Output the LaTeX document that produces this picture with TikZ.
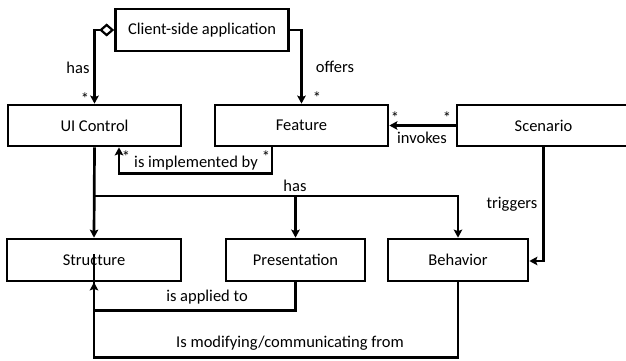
\documentclass[tikz,border=0pt]{standalone}
\usepackage{fontspec}
\setmainfont{Carlito}
\usetikzlibrary{arrows.meta,calc}
\tikzset{
  box/.style={draw, line width=2.7pt, rectangle, inner sep=0pt, minimum height=41pt},
  conn/.style={line width=2.7pt},
  arr/.style={conn, -{Stealth[length=8pt,width=8.5pt,inset=1.5pt]}},
  lbl/.style={inner sep=0pt},
}
\begin{document}
\begin{tikzpicture}[x=1pt,y=-1pt,font=\fontsize{16.5}{18}\selectfont]
\useasboundingbox (0,0) rectangle (626,361);
% classes
\node[box, minimum width=173pt, minimum height=42pt] (client) at (202,30) {Client-side application};
\node[box, minimum width=173pt] (ui) at (94.5,125.5) {UI Control};
\node[box, minimum width=173pt] (feature) at (301.5,125.5) {Feature};
\node[box, minimum width=173pt] (scenario) at (543.5,125.5) {Scenario};
\node[box, minimum width=174pt, minimum height=42pt] (structure) at (94,260) {Structure};
\node[box, minimum width=139pt, minimum height=42pt] (presentation) at (295.5,260) {Presentation};
\node[box, minimum width=140pt, minimum height=42pt] (behavior) at (458,260) {Behavior};
% aggregation and associations
\draw[conn, {Diamond[open,fill=white,length=15pt,width=13pt,line width=2.2pt]}-{Stealth[length=8pt,width=8.5pt,inset=1.5pt]}] (client.west) -| (ui.north);
\draw[arr] (client.east) -| (feature.north);
\draw[arr] (scenario.west) -- (feature.east);
\draw[arr] ([xshift=-29.5pt]feature.south) -- ++(0,26) -| ([xshift=24.5pt]ui.south);
% composition of a control
\coordinate (hasj) at (94.5,196);
\draw[arr] (ui.south) -- (structure.north);
\draw[arr] (hasj) -| (behavior.north);
\draw[arr] (hasj -| presentation.north) -- (presentation.north);
\draw[arr] (scenario.south) |- ([yshift=-1pt]behavior.east);
\draw[arr] (presentation.south) -- ++(0,28) -| (structure.south);
\draw[conn] (behavior.south) -- ++(0,75) -| ([yshift=28pt]structure.south);
% labels
\node[lbl] (lhas) at (78,68) {has};
\node[lbl] (loffers) at (335,67) {offers};
\node[lbl] (linv) at (422,138) {invokes};
\node[lbl] (limpl) at (196,163) {is implemented by};
\node[lbl] (lhas2) at (295,186) {has};
\node[lbl] (ltrig) at (512,204) {triggers};
\node[lbl] (lappl) at (207,297) {is applied to};
\node[lbl] (lmod) at (290,343) {Is modifying/communicating from};
% multiplicities
\node[lbl] (m1) at (85,99) {*};
\node[lbl] (m2) at (317,98) {*};
\node[lbl] (m3) at (395,118) {*};
\node[lbl] (m4) at (447,118) {*};
\node[lbl] (m5) at (126,157) {*};
\node[lbl] (m6) at (266,157) {*};
\end{tikzpicture}
\end{document}
